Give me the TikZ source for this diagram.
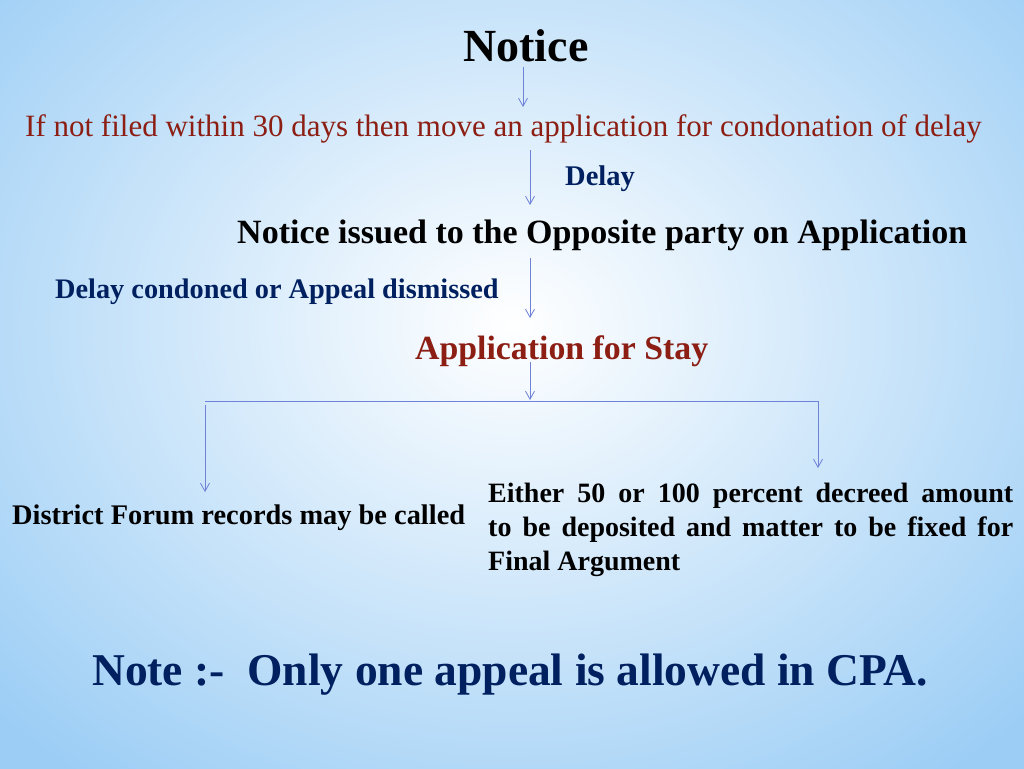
\documentclass[tikz,border=0pt]{standalone}
\usepackage{fontspec}
\setmainfont{Liberation Serif}
\usetikzlibrary{arrows.meta,fadings}
\definecolor{bgblue}{RGB}{155,205,245}
\definecolor{darkred}{RGB}{140,30,20}
\definecolor{navy}{RGB}{0,32,96}
\definecolor{arrowc}{RGB}{110,130,215}
\tikzfading[name=bandfade, top color=transparent!100, middle color=transparent!30, bottom color=transparent!100]
\tikzset{
  flow/.style={draw=arrowc, line width=0.9pt, -{Straight Barb[length=8pt,width=9pt,line width=0.8pt]}},
  plain/.style={draw=arrowc, line width=0.9pt},
  lbl/.style={inner sep=0pt, anchor=base west},
}
\begin{document}
\begin{tikzpicture}[x=1pt,y=-1pt]
\useasboundingbox (0,0) rectangle (1024,768);
\fill[bgblue] (0,0) rectangle (1024,768);
\shade[inner color=white, outer color=bgblue] (-200,-250) rectangle (1224,900);
\fill[white, path fading=bandfade] (0,555) rectangle (1024,625);
% texts
\node[lbl, anchor=base] (notice) at (526,61) {\fontsize{46}{50}\selectfont\bfseries Notice};
\node[lbl] (iff) at (25,136) {\fontsize{31}{34}\selectfont\color{darkred}If not filed within 30 days then move an application for condonation of delay};
\node[lbl] (delay) at (565,185) {\fontsize{28.5}{32}\selectfont\bfseries\color{navy}Delay};
\node[lbl] (nio) at (237,243) {\fontsize{34}{38}\selectfont\bfseries Notice issued to the Opposite party on Application};
\node[lbl] (dc) at (55,298) {\fontsize{28.3}{32}\selectfont\bfseries\color{navy}Delay condoned or Appeal dismissed};
\node[lbl] (afs) at (415,359) {\fontsize{33.8}{38}\selectfont\bfseries\color{darkred}Application for Stay};
\node[lbl] (dfr) at (12,524) {\fontsize{28.4}{32}\selectfont\bfseries District Forum records may be called};
\node[inner sep=0pt, text width=525pt, align=justify, anchor=base west, font=\fontsize{28}{34}\selectfont\bfseries] (either) at (488,502) {Either 50 or 100 percent decreed amount\linebreak to be deposited and matter to be fixed for\linebreak Final Argument\par};
\node[lbl] (note) at (92,685) {\fontsize{45.5}{50}\selectfont\bfseries\color{navy}Note :-\ \ Only one appeal is allowed in CPA.};
% connectors
\coordinate (a1s) at (523,67); \coordinate (a1e) at (523,107);
\coordinate (a2s) at (530,150); \coordinate (a2e) at (530,205);
\coordinate (a3s) at (530,258); \coordinate (a3e) at (530,318);
\coordinate (a4s) at (530,362); \coordinate (a4e) at (530,400);
\coordinate (hl) at (205,401); \coordinate (hr) at (818,401);
\coordinate (l1) at (205,405); \coordinate (l2) at (205,492);
\coordinate (r2) at (818,468);
\draw[flow] (a1s) -- (a1e);
\draw[flow] (a2s) -- (a2e);
\draw[flow] (a3s) -- (a3e);
\draw[flow] (a4s) -- (a4e);
\draw[plain] (hl) -- (hr);
\draw[flow] (l1) -- (l2);
\draw[flow] (hr) -- (r2);
\end{tikzpicture}
\end{document}
